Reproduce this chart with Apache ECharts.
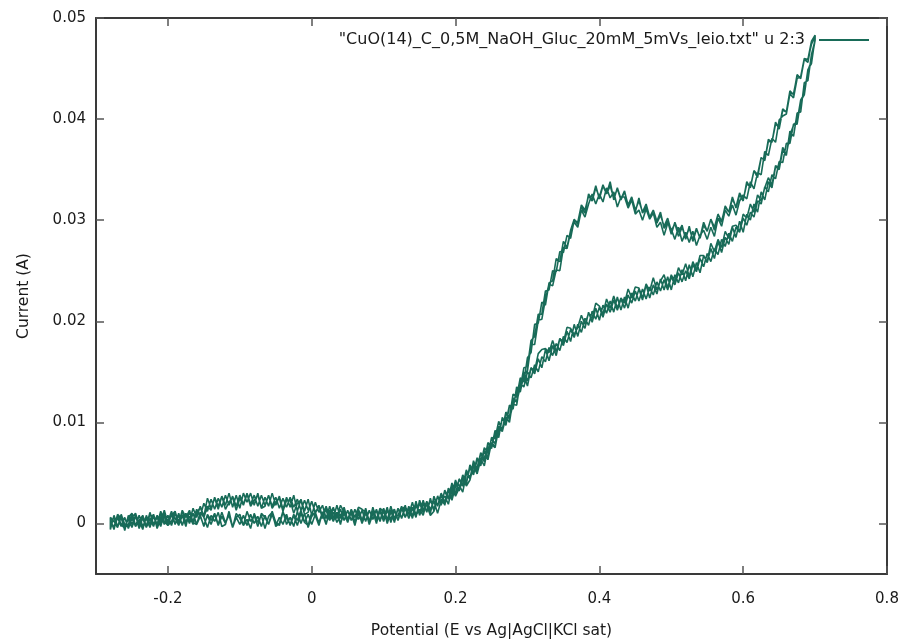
<!DOCTYPE html>
<html>
<head>
<meta charset="utf-8">
<script src="https://cdn.jsdelivr.net/npm/echarts@6/dist/echarts.min.js"></script>
<style>
html,body{margin:0;padding:0;background:#fff;}
#chart{width:906px;height:644px;}
</style>
</head>
<body>
<div id="chart"></div>
<script>
// Potential (V) grid shared by all sweep branches
const potentials = [
-0.280,-0.275,-0.270,-0.265,-0.260,-0.255,-0.250,-0.245,-0.240,-0.235,
-0.230,-0.225,-0.220,-0.215,-0.210,-0.205,-0.200,-0.195,-0.190,-0.185,
-0.180,-0.175,-0.170,-0.165,-0.160,-0.155,-0.150,-0.145,-0.140,-0.135,
-0.130,-0.125,-0.120,-0.115,-0.110,-0.105,-0.100,-0.095,-0.090,-0.085,
-0.080,-0.075,-0.070,-0.065,-0.060,-0.055,-0.050,-0.045,-0.040,-0.035,
-0.030,-0.025,-0.020,-0.015,-0.010,-0.005,0.000,0.005,0.010,0.015,
0.020,0.025,0.030,0.035,0.040,0.045,0.050,0.055,0.060,0.065,
0.070,0.075,0.080,0.085,0.090,0.095,0.100,0.105,0.110,0.115,
0.120,0.125,0.130,0.135,0.140,0.145,0.150,0.155,0.160,0.165,
0.170,0.175,0.180,0.185,0.190,0.195,0.200,0.205,0.210,0.215,
0.220,0.225,0.230,0.235,0.240,0.245,0.250,0.255,0.260,0.265,
0.270,0.275,0.280,0.285,0.290,0.295,0.300,0.305,0.310,0.315,
0.320,0.325,0.330,0.335,0.340,0.345,0.350,0.355,0.360,0.365,
0.370,0.375,0.380,0.385,0.390,0.395,0.400,0.405,0.410,0.415,
0.420,0.425,0.430,0.435,0.440,0.445,0.450,0.455,0.460,0.465,
0.470,0.475,0.480,0.485,0.490,0.495,0.500,0.505,0.510,0.515,
0.520,0.525,0.530,0.535,0.540,0.545,0.550,0.555,0.560,0.565,
0.570,0.575,0.580,0.585,0.590,0.595,0.600,0.605,0.610,0.615,
0.620,0.625,0.630,0.635,0.640,0.645,0.650,0.655,0.660,0.665,
0.670,0.675,0.680,0.685,0.690,0.695,0.700
];

// Current (A), cycle 1, anodic sweep (-0.28 V -> 0.70 V)
const cycle1Forward = [
-0.0001,0.0006,-0.0004,0.0007,-0.0003,0.0004,-0.0004,0.0007,-0.0001,0.0008,
-0.0003,0.0004,-0.0003,0.0008,-0.0001,0.0007,-0.0002,0.0009,0.0000,0.0008,
-0.0002,0.0009,0.0000,0.0010,-0.0001,0.0007,-0.0002,0.0008,-0.0001,0.0009,
-0.0002,0.0007,0.0000,0.0009,-0.0003,0.0006,-0.0001,0.0008,-0.0002,0.0009,
0.0000,0.0007,-0.0003,0.0008,-0.0001,0.0009,-0.0002,0.0006,-0.0001,0.0009,
-0.0002,0.0008,-0.0002,0.0010,0.0001,0.0009,-0.0001,0.0009,0.0001,0.0011,
0.0000,0.0010,0.0002,0.0011,0.0000,0.0010,0.0001,0.0012,0.0002,0.0011,
0.0000,0.0010,0.0002,0.0012,0.0003,0.0012,0.0002,0.0013,0.0004,0.0014,
0.0003,0.0015,0.0006,0.0017,0.0007,0.0018,0.0010,0.0021,0.0012,0.0023,
0.0014,0.0027,0.0020,0.0032,0.0024,0.0037,0.0030,0.0044,0.0038,0.0051,
0.0044,0.0059,0.0055,0.0070,0.0064,0.0079,0.0074,0.0091,0.0088,0.0104,
0.0100,0.0117,0.0114,0.0133,0.0134,0.0154,0.0155,0.0181,0.0185,0.0207,
0.0207,0.0230,0.0231,0.0250,0.0249,0.0269,0.0268,0.0285,0.0282,0.0300,
0.0298,0.0315,0.0310,0.0324,0.0319,0.0332,0.0323,0.0335,0.0326,0.0334,
0.0322,0.0331,0.0320,0.0328,0.0315,0.0323,0.0310,0.0319,0.0308,0.0316,
0.0303,0.0310,0.0297,0.0305,0.0294,0.0302,0.0289,0.0297,0.0284,0.0293,
0.0283,0.0292,0.0281,0.0292,0.0282,0.0295,0.0289,0.0301,0.0293,0.0306,
0.0299,0.0313,0.0308,0.0321,0.0313,0.0327,0.0320,0.0336,0.0333,0.0349,
0.0345,0.0362,0.0359,0.0378,0.0377,0.0395,0.0392,0.0410,0.0407,0.0426,
0.0425,0.0443,0.0441,0.0459,0.0459,0.0477,0.0483
];

// Current (A), cycle 1, return sweep, listed at the same potentials (drawn 0.70 V -> -0.28 V)
const cycle1Reverse = [
0.0004,-0.0005,0.0006,-0.0003,0.0006,-0.0005,0.0005,-0.0003,0.0008,-0.0003,
0.0005,-0.0004,0.0008,-0.0001,0.0009,-0.0001,0.0008,-0.0002,0.0010,0.0002,
0.0012,0.0001,0.0011,0.0002,0.0014,0.0007,0.0020,0.0012,0.0024,0.0014,
0.0025,0.0016,0.0028,0.0018,0.0027,0.0017,0.0028,0.0019,0.0030,0.0019,
0.0028,0.0017,0.0028,0.0018,0.0028,0.0017,0.0026,0.0015,0.0025,0.0016,
0.0026,0.0016,0.0024,0.0013,0.0023,0.0013,0.0022,0.0010,0.0018,0.0007,
0.0017,0.0007,0.0016,0.0005,0.0014,0.0003,0.0013,0.0003,0.0014,0.0004,
0.0013,0.0002,0.0013,0.0004,0.0014,0.0003,0.0012,0.0002,0.0013,0.0004,
0.0015,0.0005,0.0015,0.0005,0.0016,0.0008,0.0020,0.0011,0.0022,0.0012,
0.0025,0.0018,0.0030,0.0021,0.0033,0.0026,0.0040,0.0034,0.0048,0.0041,
0.0055,0.0048,0.0063,0.0059,0.0075,0.0070,0.0084,0.0079,0.0096,0.0093,
0.0110,0.0106,0.0124,0.0121,0.0139,0.0135,0.0150,0.0144,0.0157,0.0150,
0.0165,0.0160,0.0174,0.0166,0.0178,0.0171,0.0185,0.0179,0.0192,0.0184,
0.0197,0.0189,0.0203,0.0196,0.0210,0.0202,0.0214,0.0204,0.0217,0.0209,
0.0221,0.0211,0.0222,0.0213,0.0226,0.0218,0.0230,0.0220,0.0232,0.0222,
0.0234,0.0226,0.0239,0.0230,0.0241,0.0231,0.0244,0.0236,0.0248,0.0239,
0.0250,0.0242,0.0256,0.0249,0.0262,0.0254,0.0267,0.0259,0.0272,0.0266,
0.0281,0.0274,0.0287,0.0279,0.0293,0.0288,0.0302,0.0295,0.0308,0.0303,
0.0319,0.0316,0.0333,0.0328,0.0345,0.0341,0.0358,0.0357,0.0376,0.0376,
0.0395,0.0395,0.0418,0.0424,0.0449,0.0455,0.0480
];

// Current (A), cycle 2, anodic sweep
const cycle2Forward = [
0.0003,-0.0006,0.0008,-0.0001,-0.0005,0.0006,0.0010,-0.0002,0.0003,-0.0006,
0.0008,-0.0001,0.0009,-0.0005,0.0005,0.0009,-0.0002,0.0002,0.0011,-0.0002,
0.0008,-0.0003,0.0013,0.0001,-0.0001,0.0011,0.0006,-0.0004,0.0008,0.0002,
0.0011,-0.0003,-0.0001,0.0012,-0.0004,0.0006,0.0009,-0.0002,0.0004,-0.0005,
0.0010,0.0001,0.0008,-0.0005,0.0007,0.0011,-0.0003,0.0000,0.0012,-0.0001,
0.0006,-0.0003,0.0012,0.0000,0.0010,-0.0004,0.0007,0.0011,0.0000,0.0009,
-0.0001,0.0013,0.0002,0.0011,-0.0001,0.0015,0.0004,0.0010,-0.0002,0.0012,
0.0002,0.0013,-0.0001,0.0009,0.0012,0.0002,0.0015,0.0004,0.0013,0.0001,
0.0015,0.0005,0.0018,0.0005,0.0015,0.0006,0.0023,0.0013,0.0022,0.0010,
0.0027,0.0017,0.0028,0.0018,0.0035,0.0029,0.0043,0.0032,0.0044,0.0039,
0.0058,0.0050,0.0065,0.0057,0.0072,0.0066,0.0085,0.0084,0.0101,0.0092,
0.0110,0.0105,0.0128,0.0125,0.0144,0.0140,0.0164,0.0169,0.0197,0.0198,
0.0219,0.0216,0.0238,0.0240,0.0262,0.0259,0.0279,0.0273,0.0290,0.0301,
0.0296,0.0313,0.0307,0.0326,0.0320,0.0334,0.0321,0.0334,0.0326,0.0338,
0.0320,0.0332,0.0321,0.0329,0.0314,0.0322,0.0308,0.0322,0.0307,0.0313,
0.0301,0.0310,0.0299,0.0308,0.0292,0.0299,0.0286,0.0298,0.0288,0.0295,
0.0281,0.0294,0.0279,0.0291,0.0283,0.0298,0.0289,0.0301,0.0290,0.0306,
0.0298,0.0314,0.0308,0.0323,0.0312,0.0325,0.0319,0.0338,0.0332,0.0349,
0.0342,0.0362,0.0359,0.0380,0.0377,0.0397,0.0390,0.0409,0.0407,0.0428,
0.0424,0.0444,0.0440,0.0459,0.0456,0.0476,0.0482
];

// Current (A), cycle 2, return sweep, listed at the same potentials
const cycle2Reverse = [
-0.0006,0.0008,-0.0003,0.0006,-0.0007,0.0008,-0.0001,0.0008,-0.0005,0.0006,
-0.0003,0.0011,-0.0001,0.0006,-0.0003,0.0010,0.0002,0.0012,-0.0001,0.0010,
-0.0002,0.0010,0.0002,0.0015,0.0006,0.0017,0.0007,0.0025,0.0015,0.0025,
0.0014,0.0027,0.0018,0.0030,0.0016,0.0028,0.0015,0.0030,0.0021,0.0030,
0.0018,0.0030,0.0015,0.0026,0.0017,0.0030,0.0018,0.0027,0.0014,0.0026,
0.0016,0.0028,0.0012,0.0024,0.0012,0.0024,0.0008,0.0021,0.0011,0.0018,
0.0005,0.0017,0.0005,0.0018,0.0005,0.0016,0.0003,0.0013,0.0000,0.0014,
0.0003,0.0015,0.0002,0.0012,0.0000,0.0014,0.0005,0.0016,0.0001,0.0013,
0.0003,0.0017,0.0006,0.0017,0.0005,0.0018,0.0009,0.0023,0.0011,0.0025,
0.0012,0.0027,0.0018,0.0033,0.0025,0.0040,0.0028,0.0044,0.0037,0.0053,
0.0044,0.0062,0.0052,0.0069,0.0061,0.0080,0.0075,0.0092,0.0085,0.0105,
0.0097,0.0116,0.0113,0.0135,0.0130,0.0147,0.0136,0.0154,0.0148,0.0163,
0.0154,0.0172,0.0161,0.0176,0.0166,0.0183,0.0176,0.0190,0.0180,0.0197,
0.0185,0.0200,0.0193,0.0209,0.0199,0.0213,0.0201,0.0216,0.0208,0.0220,
0.0209,0.0224,0.0211,0.0224,0.0213,0.0228,0.0220,0.0232,0.0221,0.0236,
0.0223,0.0236,0.0227,0.0242,0.0231,0.0244,0.0231,0.0246,0.0238,0.0251,
0.0240,0.0256,0.0244,0.0258,0.0248,0.0265,0.0258,0.0272,0.0262,0.0279,
0.0268,0.0283,0.0276,0.0293,0.0283,0.0299,0.0288,0.0306,0.0300,0.0316,
0.0308,0.0328,0.0320,0.0338,0.0332,0.0353,0.0350,0.0369,0.0364,0.0388,
0.0383,0.0406,0.0407,0.0436,0.0438,0.0464,0.0478
];

// Current (A), cycle 3, anodic sweep
const cycle3Forward = [
0.0006,0.0002,-0.0004,0.0009,-0.0001,-0.0004,0.0006,0.0010,-0.0002,0.0005,
-0.0004,0.0009,0.0006,-0.0001,0.0012,0.0002,-0.0002,0.0009,0.0005,-0.0002,
0.0012,0.0000,0.0007,-0.0001,0.0012,0.0008,-0.0003,0.0009,0.0003,0.0010,
-0.0001,0.0011,0.0001,0.0008,-0.0004,0.0010,0.0005,-0.0002,0.0012,0.0002,
0.0008,-0.0003,0.0010,0.0006,-0.0001,0.0012,0.0001,-0.0002,0.0011,0.0005,
-0.0001,0.0009,0.0003,0.0013,0.0001,-0.0002,0.0011,0.0008,-0.0002,0.0011,
0.0013,0.0003,0.0011,0.0001,0.0008,0.0015,0.0002,0.0011,0.0000,0.0009,
0.0003,0.0015,0.0001,0.0010,0.0013,0.0003,0.0015,0.0000,0.0011,0.0014,
0.0003,0.0014,0.0017,0.0009,0.0021,0.0008,0.0014,0.0008,0.0022,0.0014,
0.0022,0.0010,0.0023,0.0027,0.0019,0.0035,0.0027,0.0035,0.0046,0.0037,
0.0043,0.0057,0.0049,0.0064,0.0057,0.0075,0.0078,0.0075,0.0094,0.0093,
0.0109,0.0103,0.0118,0.0117,0.0140,0.0147,0.0151,0.0177,0.0177,0.0201,
0.0202,0.0222,0.0237,0.0235,0.0251,0.0250,0.0273,0.0272,0.0288,0.0298,
0.0293,0.0310,0.0303,0.0316,0.0326,0.0316,0.0326,0.0318,0.0332,0.0322,
0.0328,0.0313,0.0323,0.0323,0.0312,0.0320,0.0306,0.0310,0.0300,0.0311,
0.0301,0.0307,0.0293,0.0298,0.0285,0.0297,0.0291,0.0281,0.0293,0.0279,
0.0288,0.0278,0.0289,0.0275,0.0285,0.0290,0.0281,0.0293,0.0284,0.0302,
0.0294,0.0310,0.0304,0.0315,0.0305,0.0319,0.0325,0.0321,0.0338,0.0331,
0.0347,0.0345,0.0368,0.0364,0.0381,0.0377,0.0399,0.0403,0.0405,0.0425,
0.0421,0.0440,0.0442,0.0460,0.0459,0.0474,0.0482
];

// Current (A), cycle 3, return sweep, listed at the same potentials
const cycle3Reverse = [
0.0003,-0.0004,0.0009,0.0005,-0.0004,-0.0001,0.0009,-0.0003,0.0003,0.0008,
-0.0004,0.0004,0.0009,-0.0002,0.0002,0.0013,0.0000,0.0008,0.0012,0.0000,
0.0013,0.0006,0.0013,0.0001,0.0010,0.0016,0.0006,0.0017,0.0013,0.0026,
0.0017,0.0027,0.0014,0.0021,0.0026,0.0013,0.0025,0.0018,0.0029,0.0017,
0.0023,0.0028,0.0015,0.0017,0.0028,0.0015,0.0021,0.0025,0.0012,0.0023,
0.0023,0.0010,0.0020,0.0023,0.0009,0.0011,0.0022,0.0011,0.0017,0.0005,
0.0015,0.0005,0.0015,0.0006,0.0018,0.0011,0.0004,0.0014,0.0006,0.0016,
0.0014,0.0011,0.0001,0.0016,0.0004,0.0015,0.0012,0.0003,0.0017,0.0005,
0.0008,0.0017,0.0006,0.0014,0.0007,0.0022,0.0008,0.0018,0.0018,0.0008,
0.0012,0.0027,0.0022,0.0019,0.0033,0.0023,0.0037,0.0038,0.0031,0.0049,
0.0046,0.0057,0.0049,0.0063,0.0071,0.0063,0.0080,0.0076,0.0095,0.0091,
0.0105,0.0100,0.0123,0.0120,0.0135,0.0150,0.0141,0.0154,0.0151,0.0168,
0.0172,0.0173,0.0169,0.0181,0.0170,0.0183,0.0179,0.0194,0.0193,0.0187,
0.0194,0.0206,0.0197,0.0208,0.0203,0.0218,0.0215,0.0207,0.0222,0.0213,
0.0225,0.0213,0.0223,0.0218,0.0232,0.0223,0.0234,0.0233,0.0223,0.0237,
0.0230,0.0243,0.0231,0.0240,0.0246,0.0233,0.0246,0.0239,0.0253,0.0246,
0.0257,0.0244,0.0259,0.0251,0.0265,0.0265,0.0259,0.0277,0.0269,0.0281,
0.0273,0.0289,0.0282,0.0294,0.0295,0.0289,0.0306,0.0302,0.0316,0.0308,
0.0325,0.0319,0.0332,0.0342,0.0335,0.0354,0.0352,0.0372,0.0365,0.0384,
0.0394,0.0398,0.0419,0.0425,0.0448,0.0458,0.0478
];

const xTicks = [-0.2, 0, 0.2, 0.4, 0.6, 0.8];
const yTicks = [0, 0.01, 0.02, 0.03, 0.04, 0.05];
const seriesName = '"CuO(14)_C_0,5M_NaOH_Gluc_20mM_5mVs_leio.txt" u 2:3';
const xTitle = 'Potential (E vs Ag|AgCl|KCl sat)';
const yTitle = 'Current (A)';

// Build the continuous voltammogram path: each cycle = forward sweep then return sweep
const loop = [];
[[cycle1Forward, cycle1Reverse], [cycle2Forward, cycle2Reverse], [cycle3Forward, cycle3Reverse]].forEach(([fw, rv]) => {
  for (let i = 0; i < potentials.length; i++) loop.push([potentials[i], fw[i]]);
  for (let i = potentials.length - 1; i >= 0; i--) loop.push([potentials[i], rv[i]]);
});

const FONT = 'DejaVu Sans';
const TXT = '#1a1a1a';
const BORDER = '#3a3a3a';
const TICK = '#555555';
const LINE = '#186b58';

const chart = echarts.init(document.getElementById('chart'), null, {renderer: 'canvas'});
const fmt = v => String(+Number(v).toFixed(4));

function xAxisDef(pos, main) {
  return {
    type: 'value', position: pos, min: -0.3, max: 0.8,
    axisLine: {show: true, onZero: false, lineStyle: {color: BORDER, width: 2}},
    axisTick: {show: true, inside: true, length: 8, customValues: xTicks, lineStyle: {color: TICK, width: 1.5}},
    axisLabel: main ? {show: true, customValues: xTicks, margin: 18, formatter: fmt,
      fontFamily: FONT, fontSize: 15, color: TXT} : {show: false},
    splitLine: {show: false},
    name: main ? xTitle : '', nameLocation: 'middle', nameGap: 49,
    nameTextStyle: {fontFamily: FONT, fontSize: 15.5, color: TXT}
  };
}
function yAxisDef(pos, main) {
  return {
    type: 'value', position: pos, min: -0.005, max: 0.05,
    axisLine: {show: true, onZero: false, lineStyle: {color: BORDER, width: 2}},
    axisTick: {show: true, inside: true, length: 8, customValues: yTicks, lineStyle: {color: TICK, width: 1.5}},
    axisLabel: main ? {show: true, customValues: yTicks, margin: 10, formatter: fmt,
      fontFamily: FONT, fontSize: 15, color: TXT} : {show: false},
    splitLine: {show: false},
    name: main ? yTitle : '', nameLocation: 'middle', nameGap: 64, nameRotate: 90,
    nameTextStyle: {fontFamily: FONT, fontSize: 15.5, color: TXT}
  };
}

chart.setOption({
  animation: false,
  backgroundColor: '#ffffff',
  grid: {left: 96, top: 18, width: 791, height: 560, containLabel: false},
  legend: {
    show: true, right: 32, top: 27, align: 'right', icon: 'rect',
    itemWidth: 50, itemHeight: 2,
    textStyle: {fontFamily: FONT, fontSize: 16, color: TXT, padding: [0, 9, 0, 0]},
    data: [seriesName]
  },
  xAxis: [xAxisDef('bottom', true), xAxisDef('top', false)],
  yAxis: [yAxisDef('left', true), yAxisDef('right', false)],
  series: [{
    name: seriesName, type: 'line', xAxisIndex: 0, yAxisIndex: 0,
    data: loop, showSymbol: false, symbol: 'none',
    lineStyle: {color: LINE, width: 1.6}, itemStyle: {color: LINE},
    emphasis: {disabled: true}
  }]
});
</script>
</body>
</html>
